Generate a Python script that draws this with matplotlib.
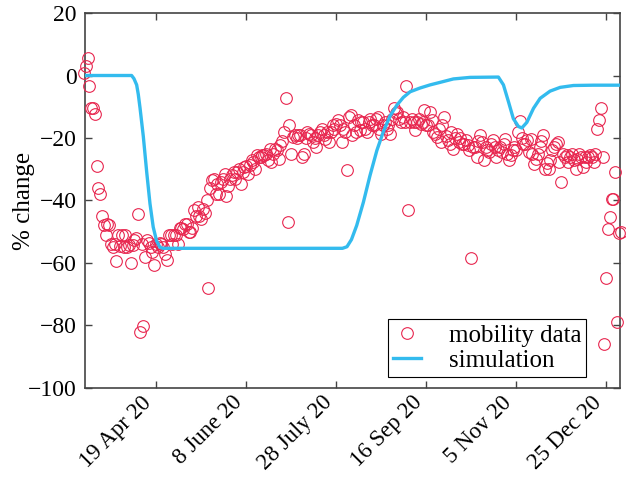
import numpy as np
import pandas as pd
import matplotlib
matplotlib.use("Agg")
import matplotlib.pyplot as plt
import matplotlib.dates as mdates

# ---------------- data ----------------
start_date = "2020-03-10"
mobility = [
    0.7, 2.9, 5.6, -3.3, -10.3, -10.5, -12.4, -29, -36, -38,
    -45, -48, -51, -47.5, -48, -54, -55, -54, -59.5, -51.2,
    -54.5, -51.2, -55, -51.2, -55, -54.4, -60, -54.4, -52.5, -52,
    -44.2, -82, -54, -80.2, -58, -52.5, -53.5, -55, -56.5, -60.8,
    -54, -55, -53.5, -54, -55, -57, -59, -51, -51, -54,
    -51, -51, -54, -48.7, -48.7, -49, -47.5, -47.5, -50, -50,
    -48.7, -43, -45, -42, -45, -46, -42.8, -44, -40, -68,
    -36, -33.6, -33, -38, -34.7, -38, -34.2, -33.1, -31.5, -38.5,
    -35.3, -33, -32, -31, -33.1, -31, -30, -34.7, -31, -29.4,
    -29, -31.5, -28.8, -27, -27.7, -29.9, -25.6, -26, -26.1, -25.6,
    -25.6, -25, -27.2, -23.4, -27.7, -25, -23.4, -24, -26.7, -22.4,
    -21, -18, -7.3, -47, -15.9, -25, -19.7, -19.1, -20, -19.1,
    -19.1, -26.1, -25, -20, -18, -18.6, -19, -21.3, -20, -22.9,
    -19, -18, -17, -19, -20.2, -18, -21.3, -18, -16, -17,
    -15.5, -14.3, -15.9, -21.3, -17, -18, -30.2, -13.2, -12.7, -19,
    -16, -18, -14.3, -17.5, -15, -14.8, -17, -18, -15, -13.8,
    -16, -15.9, -14, -13.2, -17, -18.6, -16, -14.8, -17, -16,
    -18.6, -14, -10.5, -12, -11.6, -14, -14.8, -13.2, -15, -3.3,
    -43, -14.8, -13.8, -15, -17.5, -15, -13.8, -15.4, -14.8, -11,
    -15.9, -16, -11.6, -14.3, -18, -18.6, -19.7, -17, -21.3, -15.9,
    -13.2, -19.5, -20.7, -21.8, -18, -23.4, -20, -18.6, -21.3, -20,
    -21.8, -22, -20.7, -22.4, -24, -58.4, -22.9, -23, -26.1, -21,
    -19.1, -21.3, -27.2, -23, -24, -24.5, -22, -20.7, -23, -26.1,
    -24, -22.9, -24.5, -22, -20.2, -25, -27.2, -25.6, -24, -23,
    -24, -18, -14.6, -20, -21.8, -22, -20.7, -24.5, -20.2, -25,
    -28.3, -26.7, -25, -22.9, -21, -19.1, -29.9, -28, -29.9, -27,
    -24, -23, -21.8, -21.3, -27.7, -34.2, -25, -26, -25.6, -27.7,
    -26, -25, -27, -29.9, -26.7, -25, -26, -29.4, -26, -27.7,
    -26, -25.6, -26, -27.7, -25, -17.2, -14.3, -10.3, -26.1, -85.8,
    -64.8, -49, -45.2, -39.4, -39.4, -31, -78.8, -50.3, -50,
]

# simulation curve: (days after start_date, % change)
sim_days = [-1, 26.4, 27.7, 29.2, 30.1, 31.1, 32.9, 34.8, 36.6, 38.4,
            40.3, 42.2, 43.8, 143.5, 146.0, 148.5, 151.4, 155.1, 158.8, 162.6,
            166.2, 169.9, 173.7, 177.3, 181.1, 186.6, 192.2, 197.7, 205.1, 214.4,
            230.1, 232.9, 235.7, 238.4, 241.2, 243.1, 245.9, 249.6, 253.3, 258.8,
            264.4, 271.8, 282.9, 298.8]
sim_values = [0, 0, -1, -3, -6, -10.5, -19.5, -31, -41, -48.5,
              -53, -55, -55.3, -55.3, -54.8, -52.5, -48, -40.6, -32, -24,
              -18, -13, -9.5, -7, -5.2, -4, -3, -2.2, -1.1, -0.6,
              -0.5, -3, -8.4, -13.8, -16.3, -16.8, -15, -10.5, -7.3, -5,
              -3.8, -3.2, -3.1, -3.1]

tick_dates = ["2020-04-19", "2020-06-08", "2020-07-28", "2020-09-16", "2020-11-05", "2020-12-25"]
tick_labels = ["19 Apr 20", "8 June 20", "28 July 20", "16 Sep 20", "5 Nov 20", "25 Dec 20"]
y_ticks = [-100, -80, -60, -40, -20, 0, 20]

# ---------------- plot ----------------
plt.rcParams['font.family'] = ['Liberation Serif', 'DejaVu Serif']
plt.rcParams['font.size'] = 17

base = pd.Timestamp(start_date)
dates = pd.date_range(start_date, periods=len(mobility), freq="D")
sim_dates = base + pd.to_timedelta(sim_days, unit="D")

fig = plt.figure(figsize=(6.26, 4.78), dpi=100)
ax = fig.add_axes([0.1355, 0.1883, 0.855, 0.7845])

red = '#e8264f'
blue = '#33bbee'
ax.plot(dates, mobility, linestyle='none', marker='o', markersize=8.4,
        markerfacecolor='none', markeredgecolor=red, markeredgewidth=0.8,
        label='mobility data', clip_on=False, zorder=3)
ax.plot(sim_dates, sim_values, color=blue, linewidth=2.4, label='simulation',
        zorder=4, solid_joinstyle='round')

ax.set_xlim(base + pd.Timedelta(hours=10), pd.Timestamp("2021-01-01 16:00"))
ax.set_ylim(-100, 20)
ax.set_yticks(y_ticks)
ax.set_xticks(pd.to_datetime(tick_dates))
ax.set_xticklabels(tick_labels, rotation=45, ha='right', va='top', fontsize=16.5)
ax.set_ylabel('% change', fontsize=18)
ax.yaxis.set_label_coords(-0.094, 0.5)

for s in ax.spines.values():
    s.set_color('#444444')
    s.set_linewidth(1.2)
ax.tick_params(direction='in', length=5, width=1.0, color='#444444',
               top=True, right=True)
ax.tick_params(axis='y', labelsize=17, pad=6)
ax.tick_params(axis='x', pad=3)

leg = ax.legend(loc='lower right', bbox_to_anchor=(0.937, 0.03), fontsize=18,
                frameon=True, fancybox=False, edgecolor='black', framealpha=1,
                handlelength=1.15, handletextpad=1.1, borderpad=0.2,
                labelspacing=0.1, borderaxespad=0)
leg.get_frame().set_linewidth(0.8)

fig.savefig('out.png', dpi=100)
